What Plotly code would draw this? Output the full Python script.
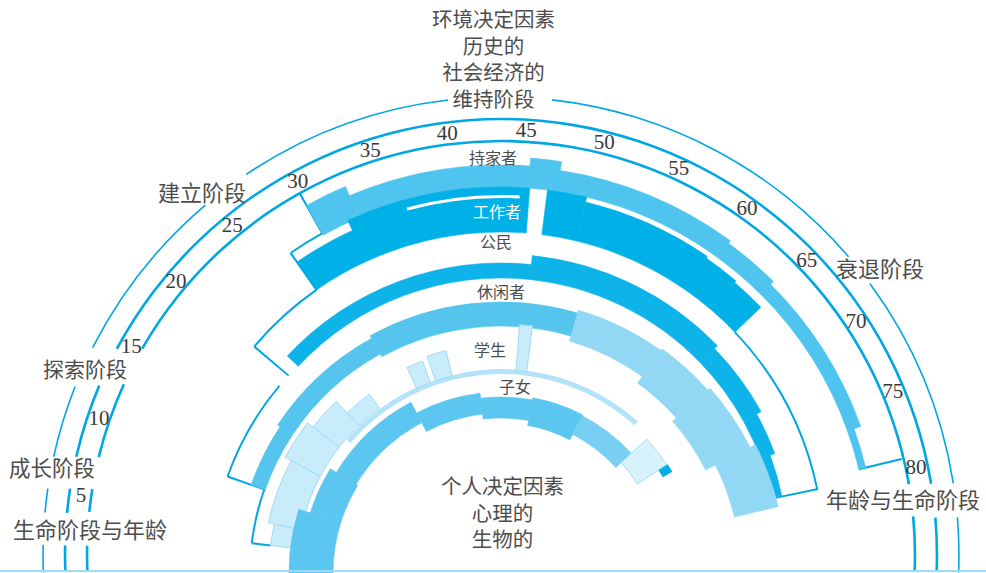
import plotly.graph_objects as go
import math

# ---------------- scale: age -> angle ----------------
DEG_PER_YEAR = 2.138       # angular degrees per year of age
ROTATION = 182.8           # screen angle of age 0

AGE_TICKS = [5, 10, 15, 20, 25, 30, 35, 40, 45, 50, 55, 60, 65, 70, 75, 80]

# ---------------- outer rings (roles of adult life) ----------------
# 持家者 homemaker: age from / to, band inner / outer (radial units)
HOME_A0 = [29.8, 32.7, 45.4, 47.5, 60.3, 64.4, 76.3]
HOME_A1 = [32.7, 45.4, 47.5, 60.3, 64.4, 76.3, 79.2]
HOME_R0 = [366, 368, 368, 368, 368, 368, 368]
HOME_R1 = [400, 390, 398, 389, 386, 382, 375]

# 工作者 worker
WORK_A0 = [27.1, 31.9, 46.8, 49.7, 59.6, 62.4]
WORK_A1 = [31.9, 45.5, 49.7, 59.6, 62.4, 65.1]
WORK_R0 = [323, 323, 323, 323, 323, 323]
WORK_R1 = [357, 368, 368, 363, 361, 359]
# thin white break inside worker band
WORK_GAP_A0 = [36.3]
WORK_GAP_A1 = [44.8]
WORK_GAP_R0 = [357]
WORK_GAP_R1 = [360]

# 公民 citizen
CIT_A0 = [21.4, 46.2, 64.9, 72.0, 76.0]
CIT_A1 = [46.2, 64.9, 72.0, 76.0, 80.0]
CIT_R0 = [277, 277, 277, 277, 277]
CIT_R1 = [292, 301, 297, 292, 287]

# ---------------- inner rings ----------------
# 休闲者 leisurite
LEI_A0 = [10.4, 17.0, 29.9]
LEI_A1 = [17.0, 29.9, 51.1]
LEI_R0 = [250, 250, 247]
LEI_R1 = [265, 268, 271]
LEI2_A0 = [51.1, 60.1, 66.1, 73.0]
LEI2_A1 = [60.1, 66.1, 73.0, 79.2]
LEI2_R0 = [242, 234, 229, 240]
LEI2_R1 = [274, 276, 279, 285]

# 学生 student
STU_A0 = [4.5, 7.0, 14.5, 19.0, 22.9, 31.9, 34.6, 45.4]
STU_A1 = [7.0, 14.5, 19.0, 22.9, 26.4, 33.9, 36.9, 46.8]
STU_R0 = [205, 205, 205, 205, 205, 203, 203, 203]
STU_R1 = [232, 238, 245, 238, 222, 226, 229, 249]
STU_BASE_A0 = [20.4]
STU_BASE_A1 = [63.1]
STU_BASE_R0 = [199]
STU_BASE_R1 = [204]

# 子女 child
CHILD_A0 = [-1.4, 9.5, 16.0, 30.4, 40.3, 48.2]
CHILD_A1 = [9.5, 16.0, 30.4, 40.3, 48.2, 56.2]
CHILD_R0 = [168, 168, 170, 160, 155, 150]
CHILD_R1 = [212, 200, 193, 181, 176, 178]
CHILD2_A0 = [56.2]
CHILD2_A1 = [65.6]
CHILD2_R0 = [156]
CHILD2_R1 = [177]
CHILD_BOX_A0 = [65.6]
CHILD_BOX_A1 = [70.0]
CHILD_BOX_R0 = [163]
CHILD_BOX_R1 = [198]
CHILD_TICK_A0 = [70.0]
CHILD_TICK_A1 = [71.2]
CHILD_TICK_R0 = [188]
CHILD_TICK_R1 = [199]

# ---------------- frame arcs (with breaks where labels sit) ----------------
ARC_R = [458, 436, 414]
ARC1_A0 = [-2.4, 3.8, 7.1, 13.9, 27.6, 46.4, 68.5, 83.3]
ARC1_A1 = [1.9, 5.2, 11.4, 24.6, 40.3, 66.5, 81.3, 90]
ARC2_A0 = [-2.4, 3.9, 7.4, 14.5, 83.2]
ARC2_A1 = [1.9, 5.4, 12.0, 81.1, 90]
ARC3_A0 = [-2.4, 4.1, 7.7, 15.3, 83.0]
ARC3_A1 = [1.9, 5.6, 12.7, 80.9, 90]

# slot outlines: arcs (radius, age from, age to) and radial edges (age, r from, r to)
OUT1_ARC = [(368, 27.1, 29.8), (323, 20.1, 27.1), (323, 65.1, 80.0)]
OUT1_RAD = [(29.8, 368, 414), (27.1, 323, 368), (20.1, 278, 323),
            (79.2, 368, 412), (80.0, 279, 324)]
OUT2_ARC = [(290, 10.4, 20.1), (251, 4.5, 10.4)]
OUT2_RAD = [(10.4, 250, 290), (4.5, 232, 251)]

# ---------------- styles ----------------
LINE = '#00a7e3'
C_HOME = '#4ec4ef'
C_WORK = '#00b1e7'
C_CIT = '#0db3e9'
C_LEI = '#55c5ee'
C_LEI2 = '#92d7f4'
C_STU = '#c9ecfb'
C_STU_LINE = '#a2dbf5'
C_CHILD = '#5bc6ef'
C_CHILD2 = '#79cff2'
CJK = 'Liberation Sans, Noto Sans CJK SC'

fig = go.Figure()


def band(a0, a1, r0, r1, color, subplot, lcolor=None, lwidth=0.6):
    theta = [(x + y) / 2 * DEG_PER_YEAR for x, y in zip(a0, a1)]
    width = [(y - x) * DEG_PER_YEAR for x, y in zip(a0, a1)]
    r = [b - a for a, b in zip(r0, r1)]
    fig.add_trace(go.Barpolar(
        theta=theta, width=width, r=r, base=r0, subplot=subplot,
        marker=dict(color=color, line=dict(color=lcolor or color, width=lwidth)),
        hoverinfo='skip', showlegend=False))


def arcs(items, subplot, color=LINE, px=2.0):
    a0 = [it[1] for it in items]
    a1 = [it[2] for it in items]
    r0 = [it[0] - px / 2 for it in items]
    r1 = [it[0] + px / 2 for it in items]
    band(a0, a1, r0, r1, color, subplot, lwidth=0)


def radials(items, subplot, color=LINE, px=2.0):
    theta = [it[0] * DEG_PER_YEAR for it in items]
    width = [px / ((it[1] + it[2]) / 2) * 180 / math.pi for it in items]
    fig.add_trace(go.Barpolar(
        theta=theta, width=width, r=[it[2] - it[1] for it in items],
        base=[it[1] for it in items], subplot=subplot,
        marker=dict(color=color, line=dict(width=0)),
        hoverinfo='skip', showlegend=False))


# ---- polar (outer rings) ----
arcs([(ARC_R[0], a, b) for a, b in zip(ARC1_A0, ARC1_A1)], 'polar', px=1.6)
arcs([(ARC_R[1], a, b) for a, b in zip(ARC2_A0, ARC2_A1)], 'polar', px=2.6)
arcs([(ARC_R[2], a, b) for a, b in zip(ARC3_A0, ARC3_A1)], 'polar', px=2.6)
arcs(OUT1_ARC, 'polar')
radials(OUT1_RAD, 'polar')
band(HOME_A0, HOME_A1, HOME_R0, HOME_R1, C_HOME, 'polar')
band(WORK_A0, WORK_A1, WORK_R0, WORK_R1, C_WORK, 'polar')
band(WORK_GAP_A0, WORK_GAP_A1, WORK_GAP_R0, WORK_GAP_R1, 'white', 'polar', lwidth=0)
band(CIT_A0, CIT_A1, CIT_R0, CIT_R1, C_CIT, 'polar')

fig.add_trace(go.Scatterpolar(
    r=[424] * len(AGE_TICKS), theta=[a * DEG_PER_YEAR for a in AGE_TICKS],
    text=[str(a) for a in AGE_TICKS], mode='text', subplot='polar',
    textfont=dict(family='Liberation Serif', size=21, color='#3a3a3a'),
    hoverinfo='skip', showlegend=False))

# ---- polar2 (inner rings) ----
arcs(OUT2_ARC, 'polar2')
radials(OUT2_RAD, 'polar2')
band(LEI_A0, LEI_A1, LEI_R0, LEI_R1, C_LEI, 'polar2')
band(LEI2_A0, LEI2_A1, LEI2_R0, LEI2_R1, C_LEI2, 'polar2')
band(STU_BASE_A0, STU_BASE_A1, STU_BASE_R0, STU_BASE_R1, '#b3e3f8', 'polar2', lwidth=0)
band(STU_A0, STU_A1, STU_R0, STU_R1, C_STU, 'polar2', lcolor=C_STU_LINE, lwidth=1)
band(CHILD_A0, CHILD_A1, CHILD_R0, CHILD_R1, C_CHILD, 'polar2')
band(CHILD2_A0, CHILD2_A1, CHILD2_R0, CHILD2_R1, C_CHILD2, 'polar2')
band(CHILD_BOX_A0, CHILD_BOX_A1, CHILD_BOX_R0, CHILD_BOX_R1, '#d8f2fc', 'polar2',
     lcolor='#a6dff6', lwidth=1)
band(CHILD_TICK_A0, CHILD_TICK_A1, CHILD_TICK_R0, CHILD_TICK_R1, '#00aee6', 'polar2', lwidth=0)

W, H = 986, 573
ang = dict(visible=False, rotation=ROTATION, direction='clockwise', showgrid=False)
rad = dict(visible=False, range=[0, 470], showgrid=False)
fig.update_layout(
    width=W, height=H, margin=dict(l=0, r=0, t=0, b=0),
    paper_bgcolor='white', plot_bgcolor='white', showlegend=False,
    polar=dict(domain=dict(x=[31 / W, 971 / W], y=[0, 488 / H]), sector=[-2.2, 182.2],
               bgcolor='rgba(0,0,0,0)', barmode='overlay', angularaxis=ang, radialaxis=rad),
    polar2=dict(domain=dict(x=[31 / W, 971 / W], y=[0, 470 / H]), sector=[0, 180],
                bgcolor='rgba(0,0,0,0)', barmode='overlay', angularaxis=ang, radialaxis=rad),
)


def label(text, px, py, size=22, color='#4d4d4d'):
    fig.add_annotation(text=text, x=px / W, y=1 - py / H, xref='paper', yref='paper',
                       showarrow=False, xanchor='center', yanchor='middle', align='center',
                       font=dict(family=CJK, size=size, color=color), borderpad=0)


label('环境决定因素<br>历史的<br>社会经济的<br>维持阶段', 493, 59, size=20.5)
label('建立阶段', 202, 193)
label('探索阶段', 85, 369, size=21)
label('成长阶段', 52, 469, size=21.5)
label('生命阶段与年龄', 90, 530)
label('衰退阶段', 880, 270)
label('年龄与生命阶段', 903, 500)
label('个人决定因素<br>心理的<br>生物的', 502, 513, size=20.5)

label('持家者', 493, 158, size=16)
label('工作者', 497, 212, size=16, color='white')
label('公民', 496, 243, size=16)
label('休闲者', 501, 292, size=16)
label('学生', 490, 350, size=16)
label('子女', 515, 387, size=16)

fig.add_shape(type='line', xref='paper', yref='paper', x0=0, x1=1, y0=2 / H, y1=2 / H,
              line=dict(color='#9edcf6', width=2))

fig.write_html('out.html', config={'displayModeBar': False},
               post_script="document.body.style.margin='0';document.body.style.overflow='hidden';")
